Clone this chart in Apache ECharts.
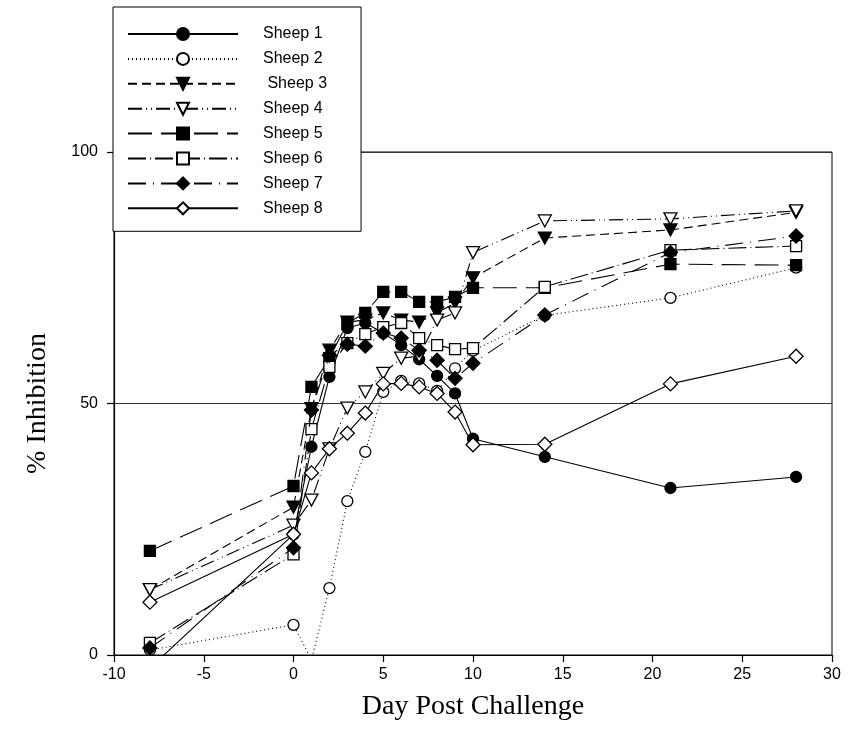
<!DOCTYPE html>
<html>
<head>
<meta charset="utf-8">
<script src="https://cdn.jsdelivr.net/npm/echarts@6/dist/echarts.min.js"></script>
<style>
html,body{margin:0;padding:0;background:#fff;}
#chart{width:858px;height:751px;}
</style>
</head>
<body>
<div id="chart"></div>
<script>
const days = [-8, 0, 1, 2, 3, 4, 5, 6, 7, 8, 9, 10, 14, 21, 28];
const sheep1 = [-2.6, 24, 41.4, 55.3, 65, 66, 64, 61.6, 58.8, 55.5, 52, 43, 39.4, 33.2, 35.4];
const sheep2 = [1, 6, -1, 13.3, 30.6, 40.4, 52.3, 54.5, 54, 52.5, 57, 60.5, 67.5, 71, 77];
const sheep3 = [13, 29.4, 49, 60.6, 66.2, 66.6, 68, 66.6, 66.2, 68, 70, 75, 82.9, 84.5, 88];
const sheep4 = [13, 25.8, 30.8, 41, 49.1, 52.3, 56, 59, 59.4, 66.6, 68, 80, 86.3, 86.7, 88.3];
const sheep5 = [20.7, 33.6, 53.3, 59, 66, 68, 72.2, 72.2, 70.2, 70.2, 71.2, 73, 73, 77.7, 77.5];
const sheep6 = [2.4, 20, 44.9, 57.3, 62, 63.8, 65.2, 66, 63, 61.6, 60.8, 61, 73.2, 80.5, 81.3];
const sheep7 = [1.4, 21.3, 48.7, 59.6, 61.8, 61.4, 64, 63, 60.6, 58.6, 55, 58, 67.6, 80, 83.3];
const sheep8 = [10.5, 24, 36.2, 41, 44.1, 48.1, 53.9, 54, 53.3, 52, 48.3, 41.8, 41.9, 53.9, 59.4];
const seriesNames = ['Sheep 1', 'Sheep 2', ' Sheep 3', 'Sheep 4', 'Sheep 5', 'Sheep 6', 'Sheep 7', 'Sheep 8'];
const xTicks = [-10, -5, 0, 5, 10, 15, 20, 25, 30];
const yTicks = [0, 50, 100];

const values = [sheep1, sheep2, sheep3, sheep4, sheep5, sheep6, sheep7, sheep8];
const styles = [
  {symbol: 'circle', size: 11, fill: '#000', dash: 'solid', rot: 0},
  {symbol: 'circle', size: 11, fill: '#fff', dash: [1, 3], rot: 0},
  {symbol: 'triangle', size: [13, 12], fill: '#000', dash: [9, 5], rot: 180},
  {symbol: 'triangle', size: [13, 12], fill: '#fff', dash: [14, 4, 1, 4, 1, 4], rot: 180},
  {symbol: 'rect', size: 11, fill: '#000', dash: [24, 9], rot: 0},
  {symbol: 'rect', size: 11, fill: '#fff', dash: [18, 4, 1, 4], rot: 0},
  {symbol: 'diamond', size: 14, fill: '#000', dash: [18, 7, 1, 7], rot: 0},
  {symbol: 'diamond', size: 14, fill: '#fff', dash: 'solid', rot: 0}
];

const series = values.map((vals, k) => ({
  name: seriesNames[k],
  type: 'line',
  clip: true,
  data: days.map((d, i) => [d, vals[i]]),
  symbol: styles[k].symbol,
  symbolSize: styles[k].size,
  symbolRotate: styles[k].rot,
  showAllSymbol: true,
  lineStyle: {color: '#000', width: 1.1, type: styles[k].dash},
  itemStyle: {color: styles[k].fill, borderColor: '#000', borderWidth: 1.3},
  emphasis: {disabled: true},
  animation: false,
  z: 2 + k
}));

const chart = echarts.init(document.getElementById('chart'), null, {renderer: 'canvas'});
chart.setOption({
  backgroundColor: '#fff',
  animation: false,
  grid: {left: 114, right: 26, top: 152, bottom: 96, show: true, borderColor: '#000', borderWidth: 1, backgroundColor: 'transparent'},
  legend: {
    orient: 'vertical',
    left: 113, top: 7,
    data: seriesNames,
    itemWidth: 110, itemHeight: 15, itemGap: 8.9,
    padding: [19, 34, 15, 14],
    borderColor: '#000', borderWidth: 1, backgroundColor: '#fff',
    textStyle: {fontFamily: 'Liberation Sans, Arial', fontSize: 16, lineHeight: 15, color: '#000', padding: [0, 0, 0, 20]},
    selectedMode: false,
    z: 10
  },
  xAxis: {
    type: 'value', min: xTicks[0], max: xTicks[xTicks.length - 1], interval: 5,
    name: 'Day Post Challenge', nameLocation: 'middle', nameGap: 38,
    nameTextStyle: {fontFamily: 'Liberation Serif, Times New Roman', fontSize: 28, color: '#000'},
    axisLine: {onZero: false, lineStyle: {color: '#000', width: 1.2}},
    axisTick: {show: true, inside: false, length: 7, lineStyle: {color: '#000', width: 1.2}},
    axisLabel: {fontFamily: 'Liberation Sans, Arial', fontSize: 16, color: '#000', margin: 12},
    splitLine: {show: false}
  },
  yAxis: {
    type: 'value', min: yTicks[0], max: yTicks[yTicks.length - 1], interval: 50,
    name: '% Inhibition', nameLocation: 'middle', nameGap: 62, nameRotate: 90,
    nameTextStyle: {fontFamily: 'Liberation Serif, Times New Roman', fontSize: 28, color: '#000'},
    axisLine: {onZero: false, lineStyle: {color: '#000', width: 1.2}},
    axisTick: {show: true, inside: false, length: 7, lineStyle: {color: '#000', width: 1.2}},
    axisLabel: {fontFamily: 'Liberation Sans, Arial', fontSize: 16, color: '#000', margin: 16},
    splitLine: {show: true, lineStyle: {color: '#333', width: 1}}
  },
  series: series
});
</script>
</body>
</html>
